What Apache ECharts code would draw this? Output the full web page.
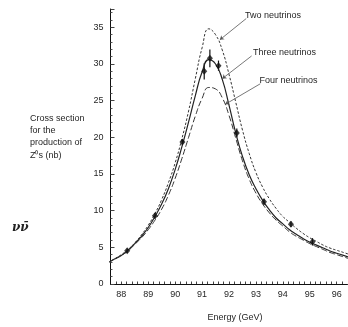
<!DOCTYPE html>
<html>
<head>
<meta charset="utf-8">
<script src="https://cdn.jsdelivr.net/npm/echarts@6/dist/echarts.min.js"></script>
<style>
  html, body { margin: 0; padding: 0; background: #fff; }
  #main { width: 348px; height: 327px; }
</style>
</head>
<body>
<div id="main"></div>
<script>
// energy samples (GeV), every 0.25, for the three predicted curves
const energy = [87.5, 87.75, 88, 88.25, 88.5, 88.75, 89, 89.25, 89.5, 89.75, 90, 90.25, 90.5, 90.75, 91, 91.25, 91.5, 91.75, 92, 92.25, 92.5, 92.75, 93, 93.25, 93.5, 93.75, 94, 94.25, 94.5, 94.75, 95, 95.25, 95.5, 95.75, 96, 96.25, 96.5];
const twoNu   = [2.9, 3.4, 4.0, 4.7, 5.6, 6.7, 8.0, 9.6, 11.5, 13.8, 16.5, 19.8, 23.6, 28.0, 32.2, 34.8, 34.0, 31.9, 28.6, 24.8, 21.0, 17.8, 15.2, 13.2, 11.6, 10.3, 9.2, 8.4, 7.6, 6.9, 6.3, 5.8, 5.3, 4.9, 4.6, 4.3, 4.0];
const threeNu = [2.9, 3.4, 3.9, 4.6, 5.5, 6.5, 7.7, 9.2, 10.9, 13.0, 15.6, 18.7, 22.1, 25.7, 28.9, 30.6, 30.0, 27.9, 24.4, 20.6, 17.4, 14.9, 13.0, 11.4, 10.1, 9.0, 8.2, 7.4, 6.8, 6.2, 5.7, 5.3, 4.9, 4.5, 4.2, 3.9, 3.6];
const fourNu  = [2.9, 3.4, 3.9, 4.5, 5.4, 6.3, 7.4, 8.7, 10.2, 12.1, 14.4, 17.1, 20.0, 22.9, 25.3, 26.8, 26.6, 25.4, 23.0, 19.9, 16.8, 14.3, 12.4, 10.9, 9.7, 8.7, 7.9, 7.1, 6.5, 6.0, 5.5, 5.1, 4.7, 4.3, 4.0, 3.7, 3.4];

// measured points
const measE   = [88.22, 89.25, 90.27, 91.08, 91.29, 91.61, 92.29, 93.3, 94.3, 95.1];
const measSig = [4.54, 9.29, 19.35, 29.0, 30.77, 29.77, 20.6, 11.21, 8.16, 5.75];
const measErr = [0.3, 0.4, 0.4, 1.1, 1.2, 0.7, 0.6, 0.4, 0.4, 0.5];

const yNameLines = ["Cross section", "for the", "production of", "Z\u2070s (nb)"];

const zip = (xs, ys) => xs.map((x, i) => [x, ys[i]]);
const ink = "#262626";
const font9 = "9px Liberation Sans, Arial, sans-serif";

const chart = echarts.init(document.getElementById("main"));

const option = {
   animation: false,
   backgroundColor: "#fff",
   textStyle: { fontFamily: "Liberation Sans, Arial, sans-serif" },
   grid: { left: 110.5, right: 0.5, top: 9, bottom: 38.5 },
   xAxis: {
      type: "value",
      min: 87.6,
      max: 96.4,
      interval: 0.2,
      name: "Energy (GeV)",
      nameLocation: "middle",
      nameGap: 29,
      nameTextStyle: { fontSize: 9, color: ink, padding: [0, 0, 0, 12] },
      axisLine: { lineStyle: { color: "#111", width: 1 } },
      axisTick: { inside: true, length: 2.5, lineStyle: { color: "#444" } },
      axisLabel: {
         fontSize: 9,
         color: ink,
         margin: 6,
         showMinLabel: false,
         showMaxLabel: false,
         formatter: (v) => (Math.abs(v - Math.round(v)) < 1e-6 ? String(Math.round(v)) : ""),
      },
      splitLine: { show: false },
   },
   yAxis: {
      type: "value",
      min: 0,
      max: 37.5,
      interval: 5,
      axisLine: { show: true, lineStyle: { color: "#111", width: 1 } },
      axisTick: { show: true, inside: true, length: 4, lineStyle: { color: "#444" } },
      minorTick: { show: true, splitNumber: 5, length: 2, lineStyle: { color: "#555" } },
      axisLabel: { fontSize: 9, color: ink, margin: 7, showMaxLabel: false },
      splitLine: { show: false },
   },
   graphic: [
      {
         type: "text",
         left: 30,
         top: 112,
         style: { text: yNameLines.join("\n"), font: font9, fill: ink, lineHeight: 12.4 },
      },
      {
         type: "text",
         left: 12,
         top: 222,
         style: { text: "\u03bd\u03bd\u0304", font: "italic bold 12px DejaVu Serif, serif", fill: "#222" },
      },
      { type: "text", left: 245, top: 11, style: { text: "Two neutrinos", font: font9, fill: ink } },
      { type: "text", left: 253, top: 48, style: { text: "Three neutrinos", font: font9, fill: ink } },
      { type: "text", left: 259.5, top: 76, style: { text: "Four neutrinos", font: font9, fill: ink } },
   ],
   series: [
      {
         name: "Two neutrinos",
         type: "line",
         data: zip(energy, twoNu),
         smooth: 0.5,
         showSymbol: false,
         lineStyle: { color: "#333", width: 1, type: [2.5, 1.8] },
         markLine: {
            silent: true,
            symbol: ["none", "arrow"],
            symbolSize: 4,
            label: { show: false },
            lineStyle: { color: "#555", width: 0.8, type: "solid" },
            data: [
               [{ coord: [92.64, 36.2] }, { coord: [91.66, 33.3] }],
               [{ coord: [92.84, 31.1] }, { coord: [91.75, 28.0] }],
               [{ coord: [93.16, 27.3] }, { coord: [91.86, 24.5] }],
            ],
         },
      },
      {
         name: "Three neutrinos",
         type: "line",
         data: zip(energy, threeNu),
         smooth: 0.5,
         showSymbol: false,
         lineStyle: { color: "#222", width: 1.2 },
      },
      {
         name: "Four neutrinos",
         type: "line",
         data: zip(energy, fourNu),
         smooth: 0.5,
         showSymbol: false,
         lineStyle: { color: "#333", width: 1, type: [6, 2.5] },
      },
      {
         name: "errors",
         type: "custom",
         data: measE.map((e, i) => [e, measSig[i] - measErr[i], measSig[i] + measErr[i]]),
         renderItem: (params, api) => {
            const lo = api.coord([api.value(0), api.value(1)]);
            const hi = api.coord([api.value(0), api.value(2)]);
            return {
               type: "line",
               shape: { x1: lo[0], y1: lo[1], x2: hi[0], y2: hi[1] },
               style: { stroke: "#111", lineWidth: 1.2 },
            };
         },
         z: 3,
      },
      {
         name: "Data",
         type: "scatter",
         data: zip(measE, measSig),
         symbol: "diamond",
         symbolSize: [6, 7],
         itemStyle: { color: "#111" },
         z: 4,
      },
   ],
};

chart.setOption(option);
</script>
</body>
</html>
